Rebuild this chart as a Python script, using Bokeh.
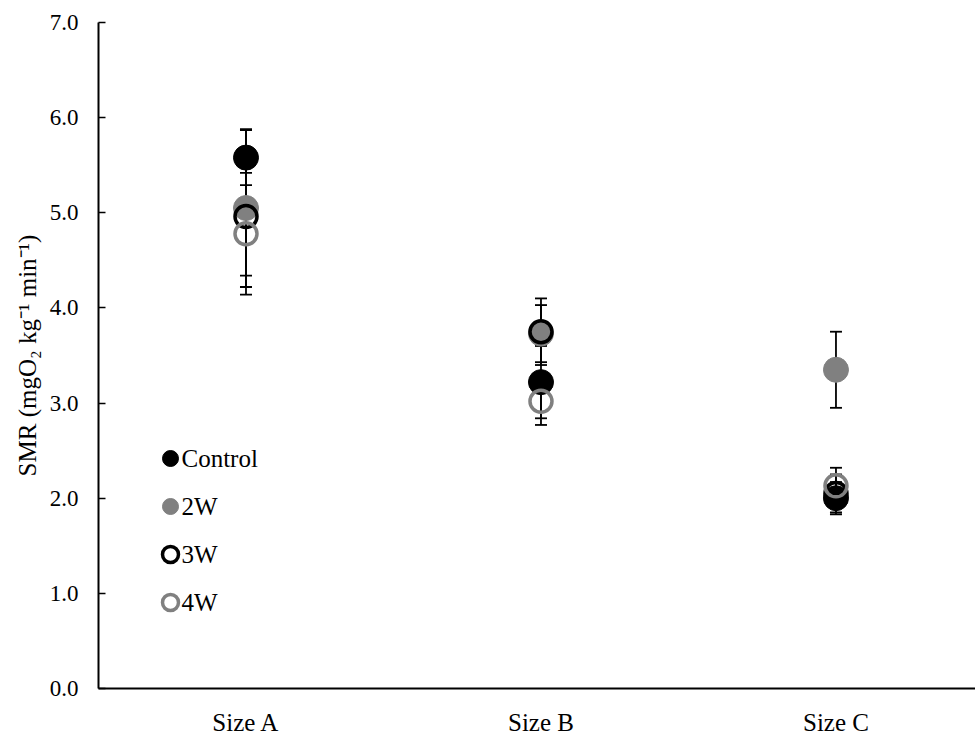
from bokeh.plotting import figure
from bokeh.models import (ColumnDataSource, Range1d, FixedTicker, Whisker, TeeHead,
                          Legend, LegendItem, Label)
from bokeh.embed import file_html
from bokeh.resources import INLINE

# ---- data ----
categories = ["Size A", "Size B", "Size C"]
series_names = ["Control", "2W", "3W", "4W"]
control = [5.58, 3.22, 2.00]
control_err = [0.29, 0.38, 0.17]
w2 = [5.05, 3.73, 3.35]
w2_err = [0.83, 0.30, 0.40]
w3 = [4.96, 3.75, 2.05]
w3_err = [0.62, 0.35, 0.20]
w4 = [4.78, 3.02, 2.13]
w4_err = [0.64, 0.25, 0.19]
y_ticks = [0, 1, 2, 3, 4, 5, 6, 7]

FONT = "Liberation Serif"
GRAY = "#808080"

p = figure(width=975, height=738, output_backend="svg", toolbar_location=None,
           x_range=Range1d(-0.5, 2.473), y_range=Range1d(0, 7),
           min_border_left=98, min_border_bottom=50, min_border_top=22, min_border_right=0)
p.outline_line_color = None
p.xgrid.visible = False
p.ygrid.visible = False
p.background_fill_color = "white"

xs = list(range(len(categories)))

styles = [
    (control, control_err, dict(fill_color="black", line_color="black", line_width=1, size=25)),
    (w2, w2_err, dict(fill_color=GRAY, line_color=GRAY, line_width=1, size=25)),
    (w3, w3_err, dict(fill_color=None, line_color="black", line_width=3.5, size=22)),
    (w4, w4_err, dict(fill_color=None, line_color=GRAY, line_width=3.5, size=22)),
]

renderers = []
for vals, errs, st in styles:
    src = ColumnDataSource(dict(x=xs, y=vals,
                                upper=[v + e for v, e in zip(vals, errs)],
                                lower=[v - e for v, e in zip(vals, errs)]))
    w = Whisker(source=src, base="x", upper="upper", lower="lower", dimension="height",
                line_color="black", line_width=1.8, level="underlay",
                upper_head=TeeHead(size=12, line_color="black", line_width=1.8),
                lower_head=TeeHead(size=12, line_color="black", line_width=1.8))
    p.add_layout(w)
    r = p.scatter("x", "y", source=src, marker="circle", **st)
    renderers.append(r)

# legend: glyphs from a Legend, names as text labels next to them
LEG_X, LEG_TOP, ROW_H, GLYPH = 52, 250, 48, 40
legend = Legend(items=[LegendItem(label=" ", renderers=[r]) for r in renderers],
                location=(LEG_X, 66), glyph_width=GLYPH, glyph_height=GLYPH, label_standoff=0,
                spacing=ROW_H - GLYPH, padding=0, margin=0,
                label_text_font=FONT, label_text_font_size="1px",
                border_line_alpha=0, background_fill_alpha=0)
p.add_layout(legend)
for i, name in enumerate(series_names):
    p.add_layout(Label(x=LEG_X + 31, y=LEG_TOP - 20 - i * ROW_H, x_units="screen", y_units="screen",
                       text=name, text_font=FONT, text_font_size="25px", text_color="black",
                       text_baseline="middle", text_align="left"))

# axes
p.xaxis.ticker = FixedTicker(ticks=xs)
p.xaxis.major_label_overrides = {i: c for i, c in enumerate(categories)}
p.xaxis.major_tick_line_color = None
p.xaxis.minor_tick_line_color = None
p.xaxis.axis_line_width = 2
p.xaxis.axis_line_color = "black"
p.xaxis.major_label_text_font = FONT
p.xaxis.major_label_text_font_size = "25px"
p.xaxis.major_label_text_color = "black"
p.xaxis.major_label_standoff = 14

p.yaxis.ticker = FixedTicker(ticks=y_ticks)
p.yaxis.major_label_overrides = {t: f"{t:.1f}" for t in y_ticks}
p.yaxis.major_tick_in = 7
p.yaxis.major_tick_out = 0
p.yaxis.major_tick_line_width = 1.5
p.yaxis.minor_tick_line_color = None
p.yaxis.axis_line_width = 2
p.yaxis.axis_line_color = "black"
p.yaxis.major_label_text_font = FONT
p.yaxis.major_label_text_font_size = "23px"
p.yaxis.major_label_text_color = "black"
p.yaxis.major_label_standoff = 20
p.yaxis.axis_label = "SMR (mgO₂ kg⁻¹ min⁻¹)"
p.yaxis.axis_label_text_font = FONT
p.yaxis.axis_label_text_font_size = "25px"
p.yaxis.axis_label_text_font_style = "normal"
p.yaxis.axis_label_text_color = "black"
p.yaxis.axis_label_standoff = 6

open("out.html", "w").write(file_html(p, INLINE))
